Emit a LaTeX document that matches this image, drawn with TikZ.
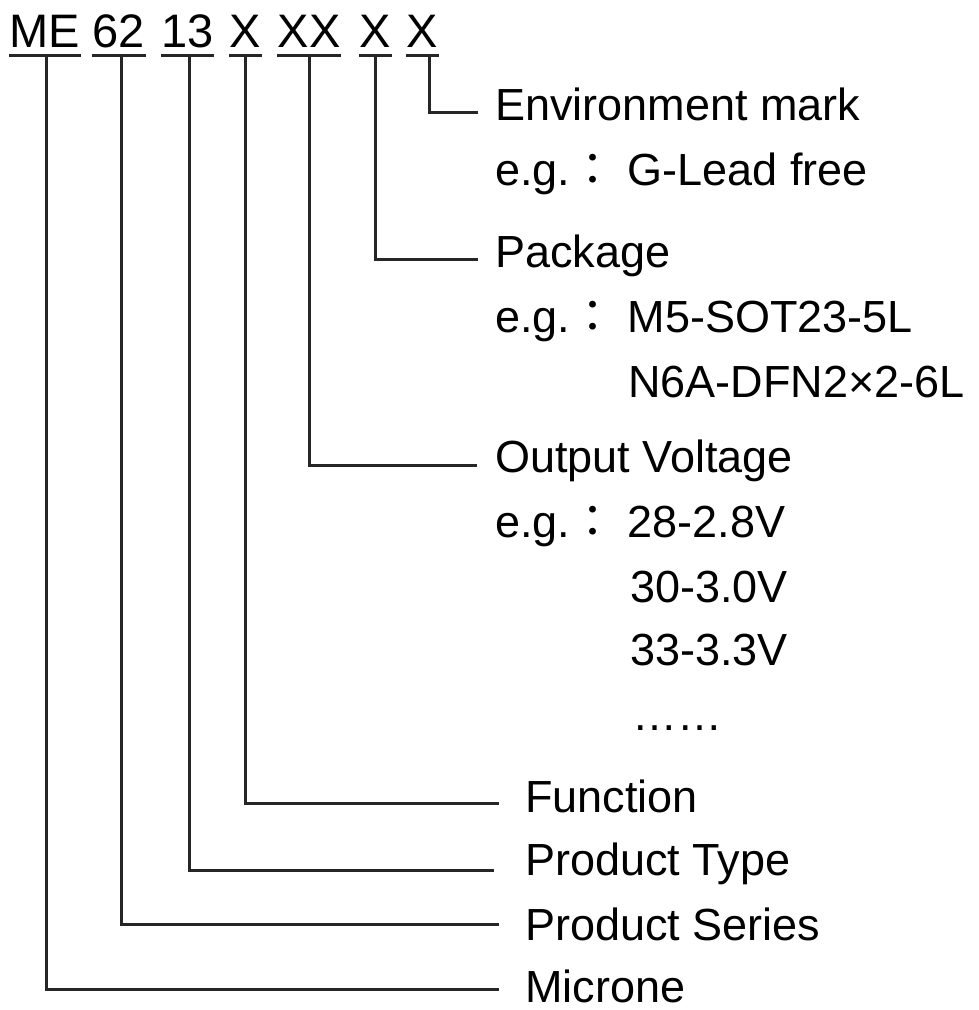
\documentclass[tikz,border=0pt]{standalone}
\usepackage{fontspec}
\setmainfont{Liberation Sans}
\newfontfamily\cjkfont{Noto Sans CJK JP}
\usetikzlibrary{positioning}

\newcommand{\eg}{e.g.{\cjkfont ：}\ }

\tikzset{
  code/.style={inner xsep=0.5pt, inner ysep=8pt, text depth=0pt, font=\fontsize{47}{56}\selectfont},
  lbl/.style={inner sep=0pt, anchor=base west, font=\fontsize{45}{54}\selectfont},
  uline/.style={line width=3pt, black!85},
  lead/.style={line width=3pt, black!85},
}

\begin{document}
\begin{tikzpicture}[x=1pt,y=-1pt]
\useasboundingbox (0,0) rectangle (979,1010);

% Code
  \node[code, anchor=base west] (me) at (9,47) {ME};
  \node[code, base right=11pt of me] (ser) {62};
  \node[code, base right=15pt of ser] (typ) {13};
  \node[code, base right=15pt of typ] (fun) {X};
  \node[code, base right=15pt of fun] (vol) {XX};
  \node[code, base right=18pt of vol] (pkg) {X};
  \node[code, base right=14pt of pkg] (env) {X};

  \foreach \n in {me,ser,typ,fun,vol,pkg,env}
    \draw[uline] (\n.south west) -- (\n.south east);

% Labels
  \node[lbl] (lenv) at (495,120) {Environment mark};
  \node[lbl] (lenveg) at (495,185) {\eg G-Lead free};
  \node[lbl] (lpkg) at (495,267) {Package};
  \node[lbl] (lpkgeg) at (495,332) {\eg M5-SOT23-5L};
  \node[lbl] (lpkgegb) at (628,397) {N6A-DFN2×2-6L};
  \node[lbl] (lvol) at (495,472) {Output Voltage};
  \node[lbl] (lvoleg) at (495,537) {\eg 28-2.8V};
  \node[lbl] (lvolegb) at (630,602) {30-3.0V};
  \node[lbl] (lvolegc) at (630,665) {33-3.3V};
  \node[lbl] (lvoldots) at (632,730) {……};
  \node[lbl] (lfun) at (525,812) {Function};
  \node[lbl] (ltyp) at (525,875) {Product Type};
  \node[lbl] (lser) at (525,940) {Product Series};
  \node[lbl] (lme) at (525,1002) {Microne};

% Leads
  \foreach \n/\l/\dx/\dy/\gap in {env/lenv/7/8/17, pkg/lpkg/0/8/17, vol/lvol/0/7/18,
      fun/lfun/0/9/26, typ/ltyp/2.5/5/31, ser/lser/2.5/16/26, me/lme/1.5/13/26}
    \draw[lead] ([xshift=\dx pt]\n.south) |- ([xshift=-\gap pt, yshift=\dy pt]\l.base west);

\end{tikzpicture}
\end{document}
